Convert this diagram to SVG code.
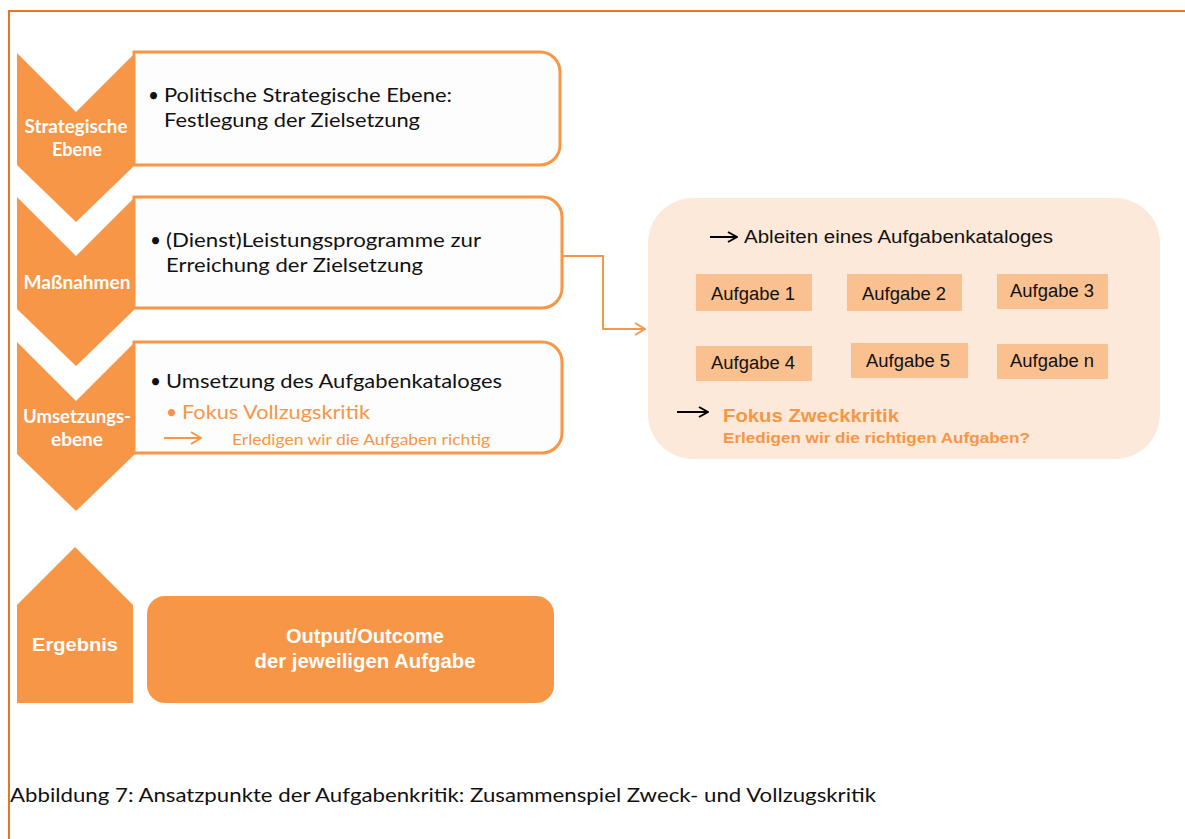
<svg xmlns="http://www.w3.org/2000/svg" width="1185" height="839" viewBox="0 0 1185 839">
  <defs>
    <style>
      .frame { fill: none; stroke: #E8761E; stroke-width: 2; }
      .chev { fill: #F79646; }
      .box { fill: #FDFDFD; stroke: #F79646; stroke-width: 3; }
      .lbl { font-family: Lato, "Open Sans", sans-serif; font-weight: bold; font-size: 18px; fill: #FFFFFF; text-anchor: middle; }
      .txt { font-family: Lato, "Open Sans", sans-serif; font-size: 19px; fill: #111111; }
      .otxt { font-family: Lato, "Open Sans", sans-serif; fill: #F79646; }
      .ar { font-family: "Liberation Sans", Arial, sans-serif; }
      .task { fill: #FAC090; }
      .tasktxt { font-family: "Liberation Sans", Arial, sans-serif; font-size: 18px; fill: #111111; text-anchor: middle; }
      .conn { fill: none; stroke: #F79646; stroke-width: 2; }
      .blk { fill: none; stroke: #000000; stroke-width: 2; }
    </style>
    <marker id="openArrowOrange" markerWidth="12" markerHeight="14" refX="11" refY="7" orient="auto" markerUnits="userSpaceOnUse">
      <path d="M1,1 L11,7 L1,13" fill="none" stroke="#F79646" stroke-width="2"/>
    </marker>
    <marker id="openArrowBlack" markerWidth="12" markerHeight="12" refX="11" refY="6" orient="auto" markerUnits="userSpaceOnUse">
      <path d="M2,1 L11,6 L2,11" fill="none" stroke="#000000" stroke-width="2"/>
    </marker>
  </defs>

  <rect width="1185" height="839" fill="#FFFFFF"/>
  <!-- page frame: top and left rules -->
  <path class="frame" d="M9,839 L9,11 L1185,11"/>

  <!-- level 1 -->
  <g id="level-strategic">
    <path class="box" d="M134,52 H540 A20,20 0 0 1 560,72 V145 A20,20 0 0 1 540,165 H134 Z"/>
    <path class="chev" d="M17,53 L76,112 L135,53 L135,165 L76,222 L17,165 Z"/>
    <text class="lbl" x="76" y="133" textLength="103" lengthAdjust="spacingAndGlyphs">Strategische</text>
    <text class="lbl" x="77" y="156" textLength="50" lengthAdjust="spacingAndGlyphs">Ebene</text>
    <text class="txt" x="148" y="102">•</text>
    <text class="txt" x="164" y="102" textLength="288" lengthAdjust="spacingAndGlyphs">Politische Strategische Ebene:</text>
    <text class="txt" x="164" y="127" textLength="256" lengthAdjust="spacingAndGlyphs">Festlegung der Zielsetzung</text>
  </g>

  <!-- level 2 -->
  <g id="level-measures">
    <path class="box" d="M134,197 H542 A20,20 0 0 1 562,217 V288 A20,20 0 0 1 542,308 H134 Z"/>
    <path class="chev" d="M17,197 L76,256 L135,197 L135,309 L76,366 L17,309 Z"/>
    <text class="lbl" x="77" y="289" textLength="107" lengthAdjust="spacingAndGlyphs">Maßnahmen</text>
    <text class="txt" x="150" y="247">•</text>
    <text class="txt" x="166" y="247" textLength="315" lengthAdjust="spacingAndGlyphs">(Dienst)Leistungsprogramme zur</text>
    <text class="txt" x="166" y="272" textLength="257" lengthAdjust="spacingAndGlyphs">Erreichung der Zielsetzung</text>
  </g>

  <!-- level 3 -->
  <g id="level-implementation">
    <path class="box" d="M134,342 H542 A20,20 0 0 1 562,362 V433 A20,20 0 0 1 542,453 H134 Z"/>
    <path class="chev" d="M17,342 L76,401 L135,342 L135,454 L76,511 L17,454 Z"/>
    <text class="lbl" x="77" y="423" textLength="108" lengthAdjust="spacingAndGlyphs">Umsetzungs-</text>
    <text class="lbl" x="77" y="446" textLength="52" lengthAdjust="spacingAndGlyphs">ebene</text>
    <text class="txt" x="150" y="388">•</text>
    <text class="txt" x="166" y="388" textLength="336" lengthAdjust="spacingAndGlyphs">Umsetzung des Aufgabenkataloges</text>
    <text class="otxt" x="166" y="419" font-size="19">•</text>
    <text class="otxt" x="182" y="419" font-size="19" textLength="188" lengthAdjust="spacingAndGlyphs">Fokus Vollzugskritik</text>
    <line x1="164" y1="438" x2="201" y2="438" stroke="#F79646" stroke-width="2" marker-end="url(#openArrowOrange)"/>
    <text class="otxt" x="232" y="445" font-size="15" textLength="258" lengthAdjust="spacingAndGlyphs">Erledigen wir die Aufgaben richtig</text>
  </g>

  <!-- result -->
  <g id="result">
    <path class="chev" d="M17,703 L17,605 L75,547 L133,605 L133,703 Z"/>
    <text class="ar" x="75" y="651" font-size="19" font-weight="bold" fill="#FFFFFF" text-anchor="middle" textLength="86" lengthAdjust="spacingAndGlyphs">Ergebnis</text>
    <rect x="147" y="596" width="407" height="107" rx="18" fill="#F79646"/>
    <text class="ar" x="365" y="643" font-size="20" font-weight="bold" fill="#FFFFFF" text-anchor="middle" textLength="158" lengthAdjust="spacingAndGlyphs">Output/Outcome</text>
    <text class="ar" x="365" y="668" font-size="20" font-weight="bold" fill="#FFFFFF" text-anchor="middle" textLength="221" lengthAdjust="spacingAndGlyphs">der jeweiligen Aufgabe</text>
  </g>

  <!-- task catalogue panel -->
  <g id="task-catalogue">
    <rect x="648" y="198" width="512" height="261" rx="45" fill="#FDE9D9"/>
    <line class="blk" x1="710" y1="237" x2="737" y2="237" marker-end="url(#openArrowBlack)"/>
    <text class="ar" x="744" y="243" font-size="18" fill="#111111" textLength="309" lengthAdjust="spacingAndGlyphs">Ableiten eines Aufgabenkataloges</text>

    <g id="task-1"><rect class="task" x="696" y="274" width="116" height="37"/><text class="tasktxt" x="753" y="300" textLength="84" lengthAdjust="spacingAndGlyphs">Aufgabe 1</text></g>
    <g id="task-2"><rect class="task" x="847" y="274" width="115" height="37"/><text class="tasktxt" x="904" y="300" textLength="84" lengthAdjust="spacingAndGlyphs">Aufgabe 2</text></g>
    <g id="task-3"><rect class="task" x="997" y="274" width="111" height="35"/><text class="tasktxt" x="1052" y="297" textLength="84" lengthAdjust="spacingAndGlyphs">Aufgabe 3</text></g>
    <g id="task-4"><rect class="task" x="696" y="346" width="116" height="35"/><text class="tasktxt" x="753" y="369" textLength="84" lengthAdjust="spacingAndGlyphs">Aufgabe 4</text></g>
    <g id="task-5"><rect class="task" x="851" y="343" width="117" height="35"/><text class="tasktxt" x="908" y="367" textLength="84" lengthAdjust="spacingAndGlyphs">Aufgabe 5</text></g>
    <g id="task-n"><rect class="task" x="997" y="344" width="111" height="35"/><text class="tasktxt" x="1052" y="367" textLength="84" lengthAdjust="spacingAndGlyphs">Aufgabe n</text></g>

    <line class="blk" x1="677" y1="412" x2="708" y2="412" marker-end="url(#openArrowBlack)"/>
    <text class="ar" x="723" y="422" font-size="19" font-weight="bold" fill="#F79646" textLength="176" lengthAdjust="spacingAndGlyphs">Fokus Zweckkritik</text>
    <text class="ar" x="723" y="443" font-size="14" font-weight="bold" fill="#F79646" textLength="307" lengthAdjust="spacingAndGlyphs">Erledigen wir  die richtigen Aufgaben?</text>
  </g>

  <!-- connector from measures to task catalogue -->
  <g id="connectors">
    <polyline class="conn" points="562,256 603,256 603,329 645,329" marker-end="url(#openArrowOrange)"/>
  </g>

  <text x="10" y="802" font-family="Lato, 'Open Sans', sans-serif" font-size="20" fill="#111111" textLength="866" lengthAdjust="spacingAndGlyphs">Abbildung 7: Ansatzpunkte der Aufgabenkritik: Zusammenspiel Zweck- und Vollzugskritik</text>
</svg>
